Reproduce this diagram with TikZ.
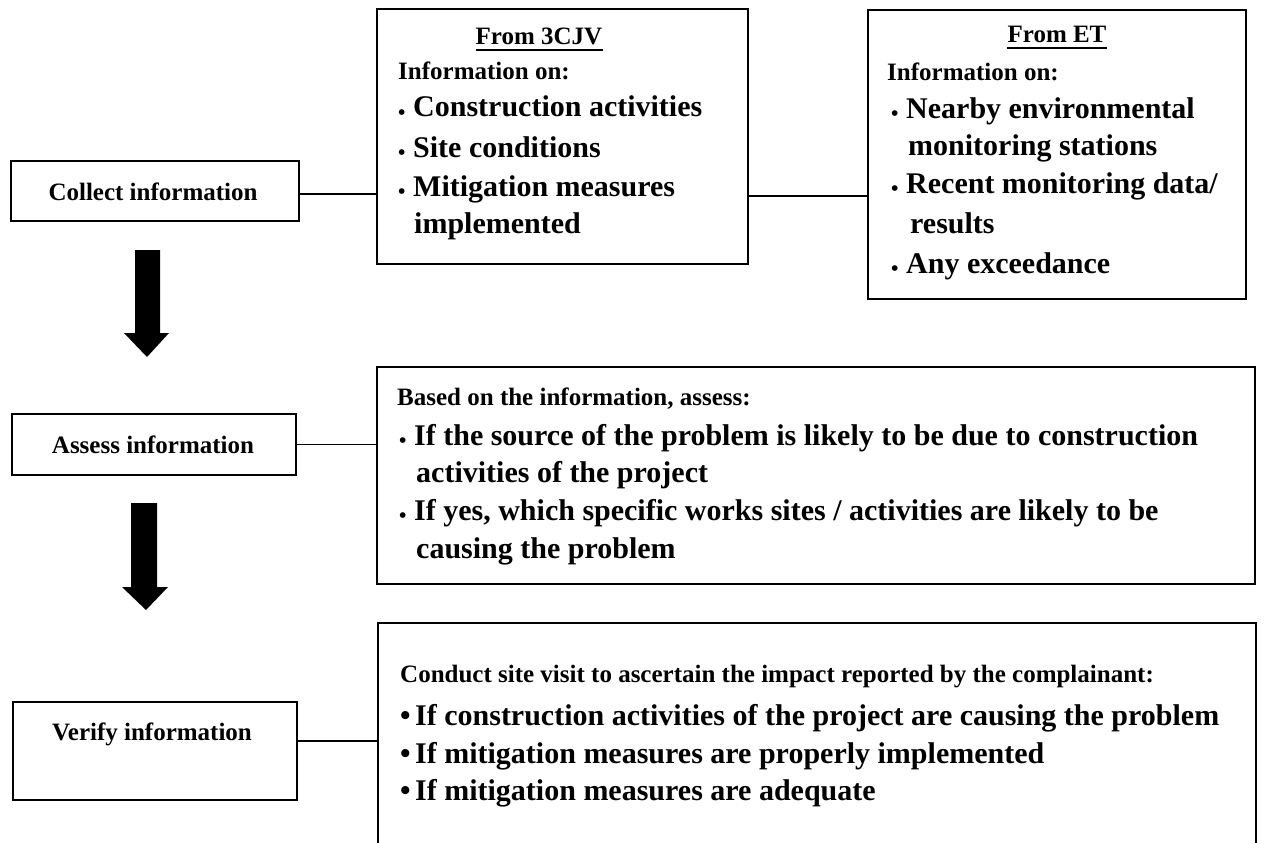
\documentclass[tikz,border=0pt]{standalone}
\usepackage{fontspec}
\setmainfont{Liberation Serif}
% small round bullet sitting low on the line
\newcommand\lowbul{\makebox[15pt][l]{\raisebox{-2.5pt}{\fontsize{21}{21}\selectfont •}}}
% full-size bullet centred on the x-height
\newcommand\midbul{\makebox[15pt][l]{•}}
\begin{document}
\begin{tikzpicture}[x=1pt,y=-1pt,
  box/.style={draw=black,line width=1.6pt,inner sep=0pt,anchor=north west},
  link/.style={draw=black,line width=1.5pt},
  rule/.style={draw=black,line width=1.4pt},
  small/.style={font=\fontsize{25}{30}\selectfont\bfseries,inner sep=0pt,anchor=base west},
  big/.style={font=\fontsize{30}{36}\selectfont\bfseries,inner sep=0pt,anchor=base west},
  label/.style={font=\fontsize{25}{30}\selectfont\bfseries,inner sep=0pt,anchor=base},
  blockarrow/.style={fill=black,draw=none}]
\clip (0,0) rectangle (1267,843);
\useasboundingbox (0,0) rectangle (1267,843);

% left column: the three steps
\node[box,minimum width=288,minimum height=60] (collect) at (10,160) {};
\node[label] (collectlbl) at (153,200) {Collect information};
\node[box,minimum width=284,minimum height=61] (assess) at (11,413) {};
\node[label] (assesslbl) at (153,453) {Assess information};
\node[box,minimum width=284,minimum height=98] (verify) at (12,701) {};
\node[label] (verifylbl) at (152,740) {Verify information};

% arrows between the steps
\fill[blockarrow] (135,250) -- (160,250) -- (160,333) -- (169,333) -- (147,357) -- (124,333) -- (135,333) -- cycle;
\fill[blockarrow] (131,503) -- (157,503) -- (157,587) -- (168,587) -- (146,610) -- (122,587) -- (131,587) -- cycle;

% information from 3CJV
\node[box,minimum width=371,minimum height=255] (cjv) at (376,8) {};
\node[label] (cjvhead) at (539,45) {From 3CJV};
\draw[rule] ([yshift=-5pt]cjvhead.base west) -- ([yshift=-5pt]cjvhead.base east);
\node[small] (cjvinfo) at (398,80) {Information on:};
\node[big] (cjv1) at (398,117) {\lowbul Construction activities};
\node[big] (cjv2) at (398,157) {\lowbul Site conditions};
\node[big] (cjv3) at (398,196) {\lowbul Mitigation measures};
\node[big] (cjv4) at (414,233) {implemented};

% information from ET
\node[box,minimum width=378,minimum height=289] (et) at (867,9) {};
\node[label] (ethead) at (1057,43) {From ET};
\draw[rule] ([yshift=-5pt]ethead.base west) -- ([yshift=-5pt]ethead.base east);
\node[small] (etinfo) at (887,81) {Information on:};
\node[big] (et1) at (891,118) {\lowbul Nearby environmental};
\node[big] (et2) at (908,155) {monitoring stations};
\node[big] (et3) at (891,193) {\lowbul Recent monitoring data/};
\node[big] (et4) at (910,233) {results};
\node[big] (et5) at (891,273) {\lowbul Any exceedance};

% assessment criteria
\node[box,minimum width=878,minimum height=217] (assessinfo) at (376,366) {};
\node[small] (as0) at (397,405) {Based on the information, assess:};
\node[big] (as1) at (399,445) {\lowbul If the source of the problem is likely to be due to construction};
\node[big] (as2) at (416,482) {activities of the project};
\node[big] (as3) at (399,520) {\lowbul If yes, which specific works sites / activities are likely to be};
\node[big] (as4) at (416,558) {causing the problem};

% site visit checks
\node[box,minimum width=878,minimum height=300] (check) at (377,622) {};
\node[small] (ch0) at (400,682) {Conduct site visit to ascertain the impact reported by the complainant:};
\node[big] (ch1) at (400,725) {\midbul If construction activities of the project are causing the problem};
\node[big] (ch2) at (400,763) {\midbul If mitigation measures are properly implemented};
\node[big] (ch3) at (400,800) {\midbul If mitigation measures are adequate};

% connectors
\coordinate (c1) at ([yshift=-3pt]collect.east);
\draw[link] (c1) -- (c1 -| cjv.west);
\draw[link] ([yshift=-2pt]c1 -| cjv.east) -- ([yshift=-2pt]c1 -| et.west);
\draw[link] (assess.east) -- (assess.east -| assessinfo.west);
\coordinate (c3) at ([yshift=10pt]verify.east);
\draw[link] (c3) -- (c3 -| check.west);
\end{tikzpicture}
\end{document}
